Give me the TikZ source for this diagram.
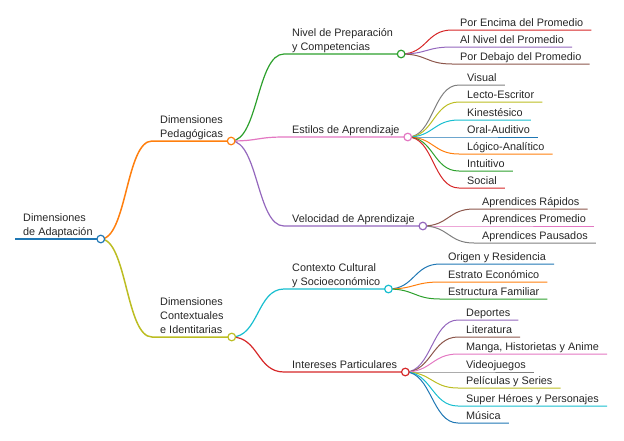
\documentclass[tikz,border=0pt]{standalone}
\usepackage{fontspec}
\setmainfont{Liberation Sans}
\definecolor{cBlue}{HTML}{1F77B4}
\definecolor{cOrange}{HTML}{FF7F0E}
\definecolor{cGreen}{HTML}{2CA02C}
\definecolor{cRed}{HTML}{D62728}
\definecolor{cPurple}{HTML}{9467BD}
\definecolor{cBrown}{HTML}{8C564B}
\definecolor{cPink}{HTML}{E377C2}
\definecolor{cGray}{HTML}{7F7F7F}
\definecolor{cOlive}{HTML}{BCBD22}
\definecolor{cCyan}{HTML}{17BECF}
\begin{document}
\begin{tikzpicture}[x=1pt, y=-1pt,
  txt/.style={anchor=south west, align=left, inner xsep=8pt, inner ysep=0pt,
    font=\fontsize{10.85}{14}\selectfont, text=black!85, execute at end node={\rule[-3.2pt]{0pt}{3.2pt}}},
  lvlone/.style={line width=1.5pt},
  lvltwo/.style={line width=1.2pt},
  leaf/.style={line width=1pt},
  dot/.style={line width=1.2pt, fill=white}]
\useasboundingbox (0,0) rectangle (624,440);
% main branches
\node[txt] (root) at (15,239) {Dimensiones\\de Adaptación};
\node[txt] (ped) at (152,141) {Dimensiones\\Pedagógicas};
\node[txt] (cont) at (152,337) {Dimensiones\\Contextuales\\e Identitarias};
\node[txt] (nivel) at (284,54) {Nivel de Preparación\\y Competencias};
\node[txt] (estilos) at (284,137) {Estilos de Aprendizaje};
\node[txt] (veloc) at (284,226) {Velocidad de Aprendizaje};
\node[txt] (contexto) at (284,289) {Contexto Cultural\\y Socioeconómico};
\node[txt] (intereses) at (284,372) {Intereses Particulares};
% leaves
\node[txt] (nivA) at (452,30) {Por Encima del Promedio};
\node[txt] (nivB) at (452,47) {Al Nivel del Promedio};
\node[txt] (nivC) at (452,64) {Por Debajo del Promedio};
\node[txt] (estA) at (459,85) {Visual};
\node[txt] (estB) at (459,102) {Lecto-Escritor};
\node[txt] (estC) at (459,120) {Kinestésico};
\node[txt] (estD) at (459,137) {Oral-Auditivo};
\node[txt] (estE) at (459,154) {Lógico-Analítico};
\node[txt] (estF) at (459,171) {Intuitivo};
\node[txt] (estG) at (459,188) {Social};
\node[txt] (velA) at (474,209) {Aprendices Rápidos};
\node[txt] (velB) at (474,226) {Aprendices Promedio};
\node[txt] (velC) at (474,243) {Aprendices Pausados};
\node[txt] (ctxA) at (440,264) {Origen y Residencia};
\node[txt] (ctxB) at (440,282) {Estrato Económico};
\node[txt] (ctxC) at (440,299) {Estructura Familiar};
\node[txt] (intA) at (458,320) {Deportes};
\node[txt] (intB) at (458,337) {Literatura};
\node[txt] (intC) at (458,354) {Manga, Historietas y Anime};
\node[txt] (intD) at (458,372) {Videojuegos};
\node[txt] (intE) at (458,388) {Películas y Series};
\node[txt] (intF) at (458,406) {Super Héroes y Personajes};
\node[txt] (intG) at (458,423) {Música};
% links and underlines
\draw[cBlue, line width=2pt] (root.south west) -- (root.south east);
\draw[lvlone, cOrange] (root.south east) .. controls +(26,0) and +(-26,0) .. (ped.south west) -- (ped.south east);
\draw[lvlone, cOlive] (root.south east) .. controls +(26,0) and +(-26,0) .. (cont.south west) -- (cont.south east);
\draw[lvltwo, cGreen] (ped.south east) .. controls +(27,0) and +(-27,0) .. (nivel.south west) -- (nivel.south east);
\draw[lvltwo, cPink] (ped.south east) .. controls +(27,0) and +(-27,0) .. (estilos.south west) -- (estilos.south east);
\draw[lvltwo, cPurple] (ped.south east) .. controls +(27,0) and +(-27,0) .. (veloc.south west) -- (veloc.south east);
\draw[lvltwo, cCyan] (cont.south east) .. controls +(27,0) and +(-27,0) .. (contexto.south west) -- (contexto.south east);
\draw[lvltwo, cRed] (cont.south east) .. controls +(27,0) and +(-27,0) .. (intereses.south west) -- (intereses.south east);
\draw[leaf, cRed] (nivel.south east) .. controls +(26,0) and +(-26,0) .. (nivA.south west) -- (nivA.south east);
\draw[leaf, cPurple] (nivel.south east) .. controls +(26,0) and +(-26,0) .. (nivB.south west) -- (nivB.south east);
\draw[leaf, cBrown] (nivel.south east) .. controls +(26,0) and +(-26,0) .. (nivC.south west) -- (nivC.south east);
\draw[leaf, cGray] (estilos.south east) .. controls +(26,0) and +(-26,0) .. (estA.south west) -- (estA.south east);
\draw[leaf, cOlive] (estilos.south east) .. controls +(26,0) and +(-26,0) .. (estB.south west) -- (estB.south east);
\draw[leaf, cCyan] (estilos.south east) .. controls +(26,0) and +(-26,0) .. (estC.south west) -- (estC.south east);
\draw[leaf, cBlue] (estilos.south east) .. controls +(26,0) and +(-26,0) .. (estD.south west) -- (estD.south east);
\draw[leaf, cOrange] (estilos.south east) .. controls +(26,0) and +(-26,0) .. (estE.south west) -- (estE.south east);
\draw[leaf, cGreen] (estilos.south east) .. controls +(26,0) and +(-26,0) .. (estF.south west) -- (estF.south east);
\draw[leaf, cRed] (estilos.south east) .. controls +(26,0) and +(-26,0) .. (estG.south west) -- (estG.south east);
\draw[leaf, cBrown] (veloc.south east) .. controls +(26,0) and +(-26,0) .. (velA.south west) -- (velA.south east);
\draw[leaf, cPink] (veloc.south east) .. controls +(26,0) and +(-26,0) .. (velB.south west) -- (velB.south east);
\draw[leaf, cGray] (veloc.south east) .. controls +(26,0) and +(-26,0) .. (velC.south west) -- (velC.south east);
\draw[leaf, cBlue] (contexto.south east) .. controls +(26,0) and +(-26,0) .. (ctxA.south west) -- (ctxA.south east);
\draw[leaf, cOrange] (contexto.south east) .. controls +(26,0) and +(-26,0) .. (ctxB.south west) -- (ctxB.south east);
\draw[leaf, cGreen] (contexto.south east) .. controls +(26,0) and +(-26,0) .. (ctxC.south west) -- (ctxC.south east);
\draw[leaf, cPurple] (intereses.south east) .. controls +(26,0) and +(-26,0) .. (intA.south west) -- (intA.south east);
\draw[leaf, cBrown] (intereses.south east) .. controls +(26,0) and +(-26,0) .. (intB.south west) -- (intB.south east);
\draw[leaf, cPink] (intereses.south east) .. controls +(26,0) and +(-26,0) .. (intC.south west) -- (intC.south east);
\draw[leaf, cGray] (intereses.south east) .. controls +(26,0) and +(-26,0) .. (intD.south west) -- (intD.south east);
\draw[leaf, cOlive] (intereses.south east) .. controls +(26,0) and +(-26,0) .. (intE.south west) -- (intE.south east);
\draw[leaf, cCyan] (intereses.south east) .. controls +(26,0) and +(-26,0) .. (intF.south west) -- (intF.south east);
\draw[leaf, cBlue] (intereses.south east) .. controls +(26,0) and +(-26,0) .. (intG.south west) -- (intG.south east);
% circles on branch ends
\draw[cBlue, dot] (root.south east) circle[radius=3.8pt];
\draw[cOrange, dot] (ped.south east) circle[radius=3.8pt];
\draw[cOlive, dot] (cont.south east) circle[radius=3.8pt];
\draw[cGreen, dot] (nivel.south east) circle[radius=3.8pt];
\draw[cPink, dot] (estilos.south east) circle[radius=3.8pt];
\draw[cPurple, dot] (veloc.south east) circle[radius=3.8pt];
\draw[cCyan, dot] (contexto.south east) circle[radius=3.8pt];
\draw[cRed, dot] (intereses.south east) circle[radius=3.8pt];
\end{tikzpicture}
\end{document}
